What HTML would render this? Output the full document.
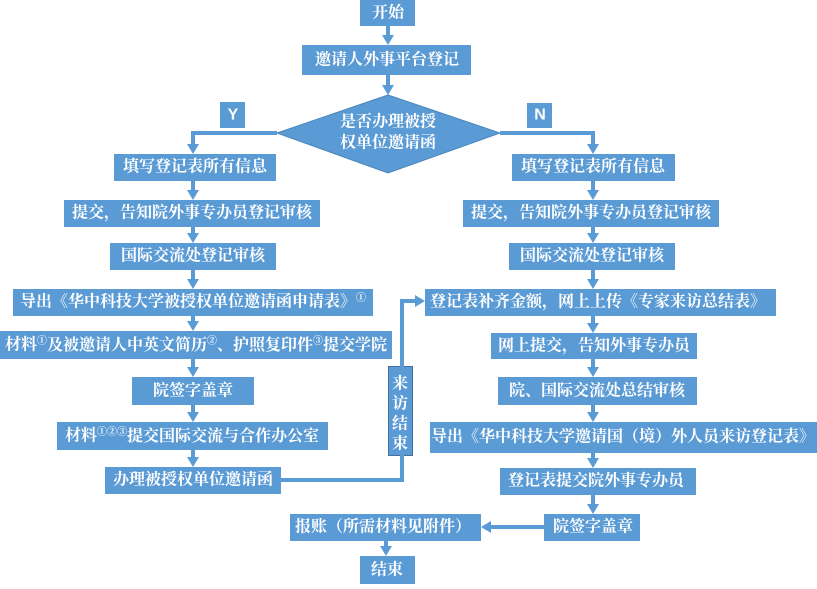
<!DOCTYPE html>
<html><head><meta charset="utf-8"><style>
html,body{margin:0;padding:0;background:#fff;}
svg text{font-family:"Liberation Serif","Noto Serif CJK SC",serif;font-weight:bold;fill:#fff;font-size:16px;text-anchor:middle;dominant-baseline:central;}
svg text.s{font-family:"Liberation Sans","Noto Sans CJK SC",sans-serif;}
tspan.sup{font-size:10px;}
</style></head><body>
<svg width="817" height="584" viewBox="0 0 817 584" xmlns="http://www.w3.org/2000/svg">
<g fill="#5b9bd5">
<rect x="360" y="0" width="55" height="26"/>
<rect x="302" y="45" width="169" height="30"/>
<polygon points="388,95 500,133 388,173 277,133" stroke="#4a86bd" stroke-width="1"/>
<rect x="220" y="102" width="25" height="26"/>
<rect x="527" y="103" width="25" height="25"/>
<rect x="114" y="154" width="162" height="27"/>
<rect x="64" y="200" width="256" height="27"/>
<rect x="110" y="243" width="166" height="27"/>
<rect x="13" y="289" width="360" height="27"/>
<rect x="0" y="331" width="392" height="28"/>
<rect x="132" y="377" width="122" height="28"/>
<rect x="57" y="422" width="271" height="28"/>
<rect x="105" y="467" width="176" height="27"/>
<rect x="388.5" y="366.5" width="24" height="89" stroke="#41719c" stroke-width="1"/>
<rect x="512" y="154" width="163" height="27"/>
<rect x="463" y="200" width="256" height="27"/>
<rect x="509" y="243" width="166" height="27"/>
<rect x="425" y="289" width="351" height="27"/>
<rect x="491" y="333" width="206" height="26"/>
<rect x="498" y="377" width="199" height="28"/>
<rect x="430" y="422" width="387" height="31"/>
<rect x="500" y="468" width="196" height="27"/>
<rect x="544" y="514" width="96" height="27"/>
<rect x="290" y="514" width="191" height="27"/>
<rect x="360" y="556" width="55" height="28"/>
</g>
<g stroke="#5b9bd5" stroke-width="4" fill="none">
<line x1="388" y1="26" x2="388" y2="36"/>
<line x1="388" y1="75" x2="388" y2="86"/>
<polyline points="277,133 193,133 193,145"/>
<polyline points="500,133 593,133 593,145"/>
<line x1="193" y1="181" x2="193" y2="191"/>
<line x1="193" y1="227" x2="193" y2="234"/>
<line x1="193" y1="270" x2="193" y2="280"/>
<line x1="193" y1="316" x2="193" y2="322"/>
<line x1="193" y1="359" x2="193" y2="368"/>
<line x1="193" y1="405" x2="193" y2="413"/>
<line x1="193" y1="450" x2="193" y2="458"/>
<polyline points="281,480 402,480 402,301 416,301"/>
<line x1="593" y1="181" x2="593" y2="191"/>
<line x1="593" y1="227" x2="593" y2="234"/>
<line x1="593" y1="270" x2="593" y2="280"/>
<line x1="593" y1="316" x2="593" y2="324"/>
<line x1="593" y1="359" x2="593" y2="368"/>
<line x1="593" y1="405" x2="593" y2="413"/>
<line x1="593" y1="453" x2="593" y2="459"/>
<line x1="593" y1="495" x2="593" y2="505"/>
<line x1="544" y1="527" x2="490" y2="527"/>
<line x1="386" y1="541" x2="386" y2="547"/>
</g>
<g fill="#5b9bd5">
<polygon points="382,35 394,35 388,45"/>
<polygon points="382,85 394,85 388,95"/>
<polygon points="187,144 199,144 193,154"/>
<polygon points="587,144 599,144 593,154"/>
<polygon points="187,190 199,190 193,200"/>
<polygon points="187,233 199,233 193,243"/>
<polygon points="187,279 199,279 193,289"/>
<polygon points="187,321 199,321 193,331"/>
<polygon points="187,367 199,367 193,377"/>
<polygon points="187,412 199,412 193,422"/>
<polygon points="187,457 199,457 193,467"/>
<polygon points="415,295 415,307 425,301"/>
<polygon points="587,190 599,190 593,200"/>
<polygon points="587,233 599,233 593,243"/>
<polygon points="587,279 599,279 593,289"/>
<polygon points="587,323 599,323 593,333"/>
<polygon points="587,367 599,367 593,377"/>
<polygon points="587,412 599,412 593,422"/>
<polygon points="587,458 599,458 593,468"/>
<polygon points="587,504 599,504 593,514"/>
<polygon points="491,521 491,533 481,527"/>
<polygon points="380,546 392,546 386,556"/>
</g>
<text x="388" y="13">开始</text>
<text x="387" y="60">邀请人外事平台登记</text>
<text x="388" y="122">是否办理被授</text>
<text x="388" y="143">权单位邀请函</text>
<text class="s" x="233" y="115" font-size="12">Y</text>
<text class="s" x="540" y="115" font-size="12">N</text>
<text x="195" y="167">填写登记表所有信息</text>
<text x="192" y="213">提交，告知院外事专办员登记审核</text>
<text x="193" y="256">国际交流处登记审核</text>
<text x="193" y="302">导出《华中科技大学被授权单位邀请函申请表》<tspan class="sup" dy="-4">①</tspan></text>
<text x="196" y="345">材料<tspan class="sup" dy="-4">①</tspan><tspan dy="4">及被邀请人中英文简历</tspan><tspan class="sup" dy="-4">②</tspan><tspan dy="4">、护照复印件</tspan><tspan class="sup" dy="-4">③</tspan><tspan dy="4">提交学院</tspan></text>
<text x="193" y="391">院签字盖章</text>
<text x="192" y="436">材料<tspan class="sup" dy="-4">①②③</tspan><tspan dy="4">提交国际交流与合作办公室</tspan></text>
<text x="193" y="480">办理被授权单位邀请函</text>
<text x="400" y="384">来</text>
<text x="400" y="404">访</text>
<text x="400" y="424">结</text>
<text x="400" y="444">束</text>
<text x="593" y="167">填写登记表所有信息</text>
<text x="591" y="213">提交，告知院外事专办员登记审核</text>
<text x="592" y="256">国际交流处登记审核</text>
<text x="598" y="302">登记表补齐金额，网上上传《专家来访总结表》</text>
<text x="594" y="346">网上提交，告知外事专办员</text>
<text x="597" y="391">院、国际交流处总结审核</text>
<text x="623" y="437">导出《华中科技大学邀请国（境）外人员来访登记表》</text>
<text x="596" y="481">登记表提交院外事专办员</text>
<text x="593" y="527">院签字盖章</text>
<text x="383" y="527">报账（所需材料见附件）</text>
<text x="387" y="570">结束</text>
</svg>
</body></html>
